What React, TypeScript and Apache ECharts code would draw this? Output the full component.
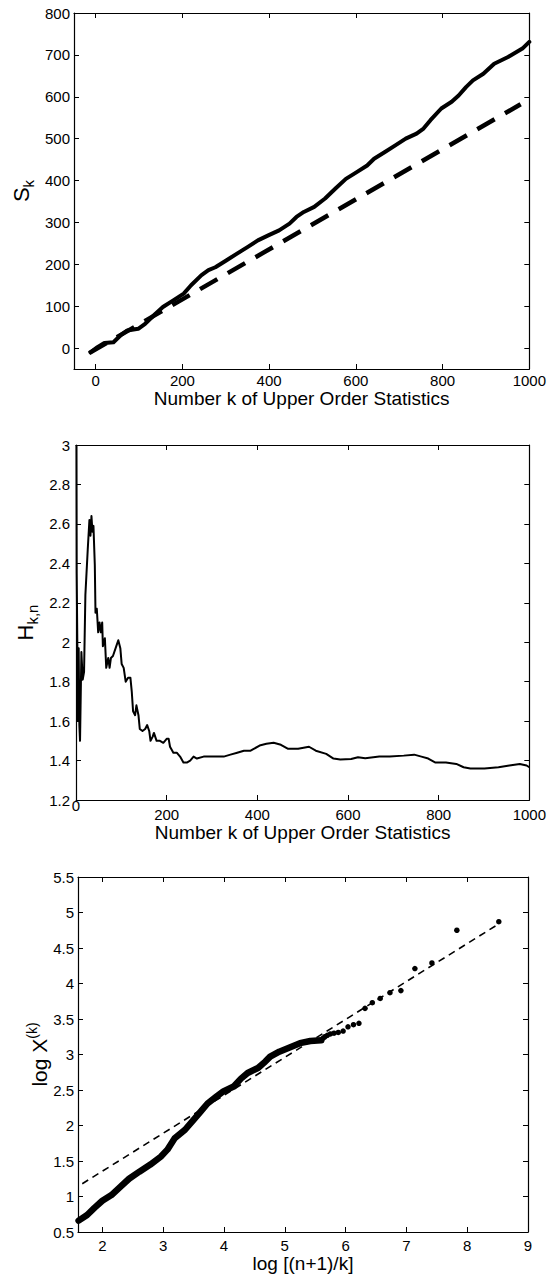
import React, { useEffect, useRef } from "react";
import * as echarts from "echarts";

const FONT = '"Liberation Sans", Arial, Helvetica, sans-serif';
const INK = "#000";

// Panel 1: S_k against the number k of upper order statistics
const SK_K = [-12, 4, 20, 41, 57, 73, 98, 114, 138, 155, 179, 203, 220, 244, 260, 276, 301, 325, 350, 374, 398, 423, 447, 463, 480, 504, 529, 553, 577, 602, 626, 642, 667, 691, 715, 740, 756, 772, 797, 821, 837, 854, 870, 894, 919, 951, 984, 1000];
const SK_S = [-10, 2, 12, 14, 30, 42, 46, 58, 82, 98, 114, 130, 150, 174, 186, 193, 209, 225, 241, 257, 269, 281, 297, 313, 325, 337, 357, 381, 404, 420, 436, 452, 468, 484, 500, 512, 524, 544, 572, 588, 603, 623, 639, 655, 679, 695, 715, 731];
const SK_REF_K = [-15, 980];
const SK_REF_S = [-12, 582];
const SK_X_TICKS = [0, 200, 400, 600, 800, 1000];
const SK_Y_TICKS = [0, 100, 200, 300, 400, 500, 600, 700, 800];

// Panel 2: Hill estimator H_{k,n}
const HILL_K = [1, 1.5, 3, 4.4, 5.9, 7.4, 8.9, 11.9, 14.8, 17.8, 20.7, 25.9, 29.6, 31.9, 34.1, 36.3, 38.5, 41.5, 43, 45.9, 48.9, 51.9, 54.8, 57.8, 59.3, 63.7, 66.7, 71.1, 74.1, 77, 81.5, 88.9, 93.3, 97.8, 100.7, 105.2, 109.6, 114.8, 120, 123, 125.9, 130.4, 133.3, 137.8, 140.7, 146.7, 152.6, 157, 161.5, 164.4, 168.9, 171.9, 177.8, 185.2, 192.6, 200, 204.4, 207.4, 214.8, 222.2, 229.6, 237, 244.4, 251.9, 259.3, 266.7, 281.5, 296.3, 311.1, 325.9, 340.7, 355.6, 370.4, 385.2, 405, 420, 436, 452, 467, 490, 514, 529, 552, 568, 583, 607, 622, 638, 669, 692, 723, 746, 762, 777, 793, 816, 839, 855, 870, 901, 932, 956, 979, 994, 1000];
const HILL_H = [3.0, 2.35, 1.98, 1.6, 1.97, 1.58, 1.5, 1.95, 1.81, 1.85, 2.24, 2.47, 2.62, 2.54, 2.64, 2.56, 2.59, 2.39, 2.15, 2.17, 2.05, 2.1, 2.05, 2.1, 1.98, 2.02, 1.87, 1.92, 1.87, 1.92, 1.93, 1.98, 2.01, 1.97, 1.89, 1.87, 1.8, 1.82, 1.82, 1.75, 1.65, 1.63, 1.68, 1.63, 1.56, 1.55, 1.56, 1.58, 1.55, 1.5, 1.52, 1.54, 1.5, 1.5, 1.49, 1.51, 1.51, 1.47, 1.44, 1.44, 1.42, 1.39, 1.39, 1.4, 1.42, 1.41, 1.42, 1.42, 1.42, 1.42, 1.43, 1.44, 1.45, 1.45, 1.476, 1.485, 1.49, 1.48, 1.46, 1.46, 1.47, 1.45, 1.434, 1.41, 1.405, 1.408, 1.417, 1.412, 1.42, 1.42, 1.425, 1.43, 1.42, 1.41, 1.39, 1.39, 1.383, 1.366, 1.36, 1.36, 1.366, 1.375, 1.383, 1.375, 1.366];
const HILL_X_TICKS = [0, 200, 400, 600, 800, 1000];
const HILL_X_LABELS = [200, 400, 600, 800, 1000];
const HILL_Y_TICKS = [1.2, 1.4, 1.6, 1.8, 2, 2.2, 2.4, 2.6, 2.8, 3];

// Panel 3: log X^(k) against log[(n+1)/k]
const QQ_DENSE_X = [1.61, 1.75, 1.87, 2.0, 2.15, 2.3, 2.44, 2.61, 2.79, 2.96, 3.07, 3.19, 3.36, 3.5, 3.62, 3.73, 3.88, 3.99, 4.16, 4.28, 4.39, 4.56, 4.68, 4.76, 4.91, 5.08, 5.25, 5.42, 5.6];
const QQ_DENSE_Y = [0.66, 0.74, 0.84, 0.94, 1.02, 1.14, 1.25, 1.35, 1.45, 1.56, 1.66, 1.82, 1.94, 2.08, 2.2, 2.31, 2.41, 2.48, 2.55, 2.66, 2.74, 2.81, 2.9, 2.97, 3.04, 3.1, 3.16, 3.19, 3.2];
const QQ_TAIL_X = [5.63, 5.66, 5.7, 5.75, 5.81, 5.88, 5.96, 6.04, 6.13, 6.22, 6.32, 6.44, 6.57, 6.73, 6.91, 7.14, 7.42, 7.83, 8.52];
const QQ_TAIL_Y = [3.23, 3.25, 3.27, 3.29, 3.3, 3.31, 3.33, 3.39, 3.42, 3.44, 3.65, 3.73, 3.79, 3.87, 3.9, 4.21, 4.29, 4.75, 4.87];
const QQ_FIT_X = [1.67, 8.52];
const QQ_FIT_Y = [1.18, 4.84];
const QQ_X_TICKS = [2, 3, 4, 5, 6, 7, 8, 9];
const QQ_Y_TICKS = [0.5, 1, 1.5, 2, 2.5, 3, 3.5, 4, 4.5, 5, 5.5];

const TICK_FONT = 15;
const TITLE_FONT = 19;

const zip = (xs: number[], ys: number[]) => xs.map((x, i) => [x, ys[i]]);
const plain = (v: number) => String(v);

const tickStyle = (values: number[]) => ({
  show: true,
  inside: true,
  length: 5,
  customValues: values,
  lineStyle: { color: INK, width: 1 },
});

const boxLine = { show: true, onZero: false, lineStyle: { color: INK, width: 1.2 } };

function xAxes(
  gridIndex: number,
  min: number,
  max: number,
  ticks: number[],
  labels: number[],
  name: string,
  nameGap: number,
  margin: number
) {
  return [
    {
      type: "value",
      gridIndex,
      position: "bottom",
      min,
      max,
      axisLine: boxLine,
      axisTick: tickStyle(ticks),
      axisLabel: {
        show: true,
        customValues: labels,
        formatter: plain,
        margin,
        fontSize: TICK_FONT,
        color: INK,
        fontFamily: FONT,
      },
      splitLine: { show: false },
      name,
      nameLocation: "middle",
      nameGap,
      nameMoveOverlap: false,
      nameTextStyle: { fontSize: TITLE_FONT, color: INK, fontFamily: FONT },
    },
    {
      type: "value",
      gridIndex,
      position: "top",
      min,
      max,
      axisLine: boxLine,
      axisTick: tickStyle(ticks),
      axisLabel: { show: false },
      splitLine: { show: false },
    },
  ];
}

function yAxes(
  gridIndex: number,
  min: number,
  max: number,
  ticks: number[],
  name: string,
  rich: Record<string, unknown>,
  nameGap: number,
  margin: number
) {
  return [
    {
      type: "value",
      gridIndex,
      position: "left",
      min,
      max,
      axisLine: boxLine,
      axisTick: tickStyle(ticks),
      axisLabel: {
        show: true,
        customValues: ticks,
        formatter: plain,
        margin,
        fontSize: TICK_FONT,
        color: INK,
        fontFamily: FONT,
      },
      splitLine: { show: false },
      name,
      nameLocation: "middle",
      nameRotate: 90,
      nameGap,
      nameMoveOverlap: false,
      nameTextStyle: { color: INK, fontFamily: FONT, rich },
    },
    {
      type: "value",
      gridIndex,
      position: "right",
      min,
      max,
      axisLine: boxLine,
      axisTick: tickStyle(ticks),
      axisLabel: { show: false },
      splitLine: { show: false },
    },
  ];
}

const subRich = {
  m: { fontSize: 22, fontFamily: FONT, color: INK },
  sub: { fontSize: 15, fontFamily: FONT, color: INK, padding: [14, 0, 0, 0] },
};

export default function App() {
  const ref = useRef<HTMLDivElement>(null);

  useEffect(() => {
    if (!ref.current) return;
    const chart = echarts.init(ref.current, undefined, { renderer: "svg" });

    const option = {
      animation: false,
      backgroundColor: "#fff",
      grid: [
        { left: 74, top: 13, width: 457, height: 356 },
        { left: 76, top: 445, width: 455, height: 355 },
        { left: 78, top: 877, width: 450, height: 355 },
      ],
      xAxis: [
        ...xAxes(0, -50, 1000, SK_X_TICKS, SK_X_TICKS, "Number k of Upper Order Statistics", 20, 4),
        ...xAxes(1, 0, 1000, HILL_X_TICKS, HILL_X_LABELS, "Number k of Upper Order Statistics", 23, 7),
        ...xAxes(2, 1.6, 9, QQ_X_TICKS, QQ_X_TICKS, "log [(n+1)/k]", 22, 6),
      ],
      yAxis: [
        ...yAxes(0, -50, 800, SK_Y_TICKS, "{m|S}{sub|k}", subRich, 38, 4),
        ...yAxes(1, 1.2, 3, HILL_Y_TICKS, "{m|H}{sub|k,n}", subRich, 36, 6),
        ...yAxes(
          2, 0.5, 5.5, QQ_Y_TICKS, "{m|log X}{sup|(k)}",
          {
            m: { fontSize: 21, fontFamily: FONT, color: INK },
            sup: { fontSize: 14, fontFamily: FONT, color: INK, padding: [0, 0, 14, 0] },
          },
          25, 4
        ),
      ],
      graphic: [
        {
          // the zero of the middle panel's k axis sits raised beside the 1.2 label
          type: "text",
          x: 76,
          y: 805,
          style: {
            text: "0",
            fontSize: TICK_FONT,
            fontFamily: FONT,
            fill: INK,
            align: "center",
            verticalAlign: "middle",
          },
        },
      ],
      series: [
        {
          type: "line",
          xAxisIndex: 0,
          yAxisIndex: 0,
          data: zip(SK_K, SK_S),
          showSymbol: false,
          lineStyle: { color: INK, width: 4, cap: "round", join: "round" },
        },
        {
          type: "line",
          xAxisIndex: 0,
          yAxisIndex: 0,
          data: zip(SK_REF_K, SK_REF_S),
          showSymbol: false,
          lineStyle: { color: INK, width: 4.5, type: [20, 12] },
        },
        {
          type: "line",
          xAxisIndex: 2,
          yAxisIndex: 2,
          data: zip(HILL_K, HILL_H),
          showSymbol: false,
          lineStyle: { color: INK, width: 2, join: "round" },
        },
        {
          type: "line",
          xAxisIndex: 4,
          yAxisIndex: 4,
          data: zip(QQ_DENSE_X, QQ_DENSE_Y),
          showSymbol: false,
          lineStyle: { color: INK, width: 6.5, cap: "round", join: "round" },
        },
        {
          type: "scatter",
          xAxisIndex: 4,
          yAxisIndex: 4,
          data: zip(QQ_TAIL_X, QQ_TAIL_Y),
          symbolSize: 5.5,
          itemStyle: { color: INK, opacity: 1 },
        },
        {
          type: "line",
          xAxisIndex: 4,
          yAxisIndex: 4,
          data: zip(QQ_FIT_X, QQ_FIT_Y),
          showSymbol: false,
          lineStyle: { color: INK, width: 1.6, type: [7, 5] },
        },
      ],
    };

    chart.setOption(option as any);
    return () => chart.dispose();
  }, []);

  return (
    <div
      ref={ref}
      style={{ position: "absolute", left: 0, top: 0, width: 549, height: 1278, background: "#fff" }}
    />
  );
}
